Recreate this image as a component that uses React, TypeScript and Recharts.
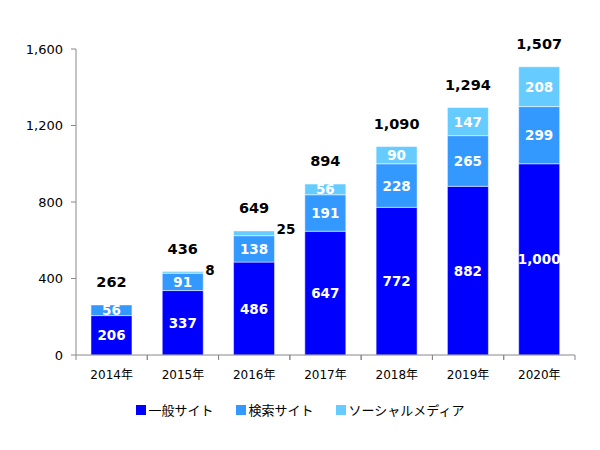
import { BarChart, Bar, XAxis, YAxis, Legend, LabelList } from 'recharts';

const years = ['2014年', '2015年', '2016年', '2017年', '2018年', '2019年', '2020年'];
const general = [206, 337, 486, 647, 772, 882, 1000];
const search = [56, 91, 138, 191, 228, 265, 299];
const social = [0, 8, 25, 56, 90, 147, 208];
const yTicks = [0, 400, 800, 1200, 1600];

const data = years.map((year, i) => ({
  year,
  general: general[i],
  search: search[i],
  social: social[i],
  total: general[i] + search[i] + social[i],
}));

const FONT = '"DejaVu Sans", "Noto Sans CJK JP", sans-serif';
const fmt = (v: number) => v.toLocaleString('en-US');

const W = 600;
const H = 450;
const M = { top: 49, right: 25, left: 16, bottom: 46 };
const Y_AXIS_W = 60;
const BAND = (W - M.left - M.right - Y_AXIS_W) / years.length;

const InnerLabel = (props: any) => {
  const { x, y, width, height, value } = props;
  if (!value) return null;
  return (
    <text
      x={x + width / 2}
      y={y + height / 2}
      textAnchor="middle"
      dominantBaseline="central"
      fill="#fff"
      fontWeight="bold"
      fontSize={13.5}
      fontFamily={FONT}
    >
      {fmt(value)}
    </text>
  );
};

const SocialLabel = (props: any) => {
  const { x, y, width, height, value } = props;
  if (!value) return null;
  if (height < 8) {
    return (
      <text
        x={x + width + 2}
        y={y - 2}
        textAnchor="start"
        dominantBaseline="central"
        fill="#000"
        fontWeight="bold"
        fontSize={13.5}
        fontFamily={FONT}
      >
        {fmt(value)}
      </text>
    );
  }
  return <InnerLabel {...props} />;
};

// total label hangs off the bottom segment so it also shows where the top segment is zero
const TotalLabel = (props: any) => {
  const { x, y, width, height, index } = props;
  const perUnit = height / general[index];
  const top = y - (search[index] + social[index]) * perUnit;
  return (
    <text
      x={x + width / 2}
      y={top - 23}
      textAnchor="middle"
      dominantBaseline="central"
      fill="#000"
      fontWeight="bold"
      fontSize={14.5}
      fontFamily={FONT}
    >
      {fmt(data[index].total)}
    </text>
  );
};

const XTick = (props: any) => {
  const { x, y, payload } = props;
  return (
    <g>
      <line x1={x - BAND / 2} y1={y - 8} x2={x - BAND / 2} y2={y - 3} stroke="#888" />
      <line x1={x + BAND / 2} y1={y - 8} x2={x + BAND / 2} y2={y - 3} stroke="#888" />
      <text x={x} y={y + 16} textAnchor="middle" fill="#000" fontSize={12} fontFamily={FONT}>
        {payload.value}
      </text>
    </g>
  );
};

const legendItems = [
  { name: '一般サイト', color: '#0000FF' },
  { name: '検索サイト', color: '#3399FF' },
  { name: 'ソーシャルメディア', color: '#66CCFF' },
];

const LegendContent = () => (
  <div style={{ display: 'flex', justifyContent: 'center', gap: 22, fontFamily: FONT, fontSize: 13 }}>
    {legendItems.map((it) => (
      <div key={it.name} style={{ display: 'flex', alignItems: 'center' }}>
        <span style={{ display: 'inline-block', width: 10, height: 10, background: it.color, marginRight: 3 }} />
        <span style={{ color: '#000' }}>{it.name}</span>
      </div>
    ))}
  </div>
);

export default function App() {
  return (
    <div style={{ position: 'absolute', left: 0, top: 0, width: W, height: H, background: '#fff' }}>
      <BarChart width={W} height={H} data={data} margin={M} barCategoryGap="21%">
        <XAxis
          dataKey="year"
          axisLine={{ stroke: '#888' }}
          tickLine={false}
          tick={<XTick />}
          height={30}
          interval={0}
        />
        <YAxis
          width={Y_AXIS_W}
          domain={[0, 1600]}
          ticks={yTicks}
          axisLine={{ stroke: '#888' }}
          tickLine={{ stroke: '#888' }}
          tickSize={5}
          tickMargin={8}
          tickFormatter={fmt}
          tick={{ fill: '#000', fontSize: 13, fontFamily: FONT }}
        />
        <Legend
          verticalAlign="bottom"
          content={<LegendContent />}
          wrapperStyle={{ position: 'absolute', top: 400, left: 0, width: W }}
        />
        <Bar dataKey="general" stackId="a" fill="#0000FF" stroke="#fff" strokeWidth={0.5} isAnimationActive={false}>
          <LabelList dataKey="general" content={<InnerLabel />} />
          <LabelList dataKey="total" content={<TotalLabel />} />
        </Bar>
        <Bar dataKey="search" stackId="a" fill="#3399FF" stroke="#fff" strokeWidth={0.5} isAnimationActive={false}>
          <LabelList dataKey="search" content={<InnerLabel />} />
        </Bar>
        <Bar dataKey="social" stackId="a" fill="#66CCFF" stroke="#fff" strokeWidth={0.5} isAnimationActive={false}>
          <LabelList dataKey="social" content={<SocialLabel />} />
        </Bar>
      </BarChart>
    </div>
  );
}
